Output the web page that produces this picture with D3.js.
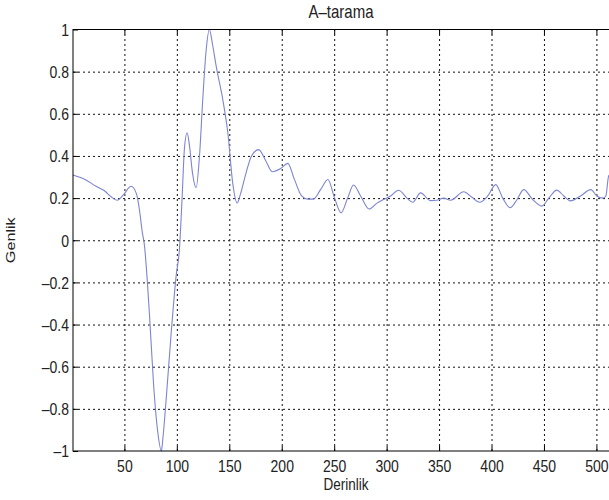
<!DOCTYPE html>
<html>
<head>
<meta charset="utf-8">
<script src="https://cdn.jsdelivr.net/npm/d3@7/dist/d3.min.js"></script>
<style>
  body { margin: 0; background: #fff; }
  text { font-family: 'Liberation Sans', Arial, sans-serif; }
</style>
</head>
<body>
<div id="chart"></div>
<script>
// A-scan trace
const depth = [1, 12, 23, 31, 37.6, 43, 49, 56.4, 61.5, 64.3, 67, 69, 74, 77.7, 81.8, 85.3, 86.5, 89.8,
  94.6, 99.3, 102.5, 105, 107.3, 109.8, 112, 114.9, 118.4, 121.6, 124.7, 128, 131, 134, 137.5, 143.8,
  148.6, 153.3, 157.5, 160.7, 166, 171.2, 178, 184.5, 191, 199, 205.8, 212, 219, 224.6, 230, 237, 244,
  250.4, 256.6, 262.8, 268.5, 275.2, 283.3, 290.5, 297, 303.8, 311.5, 319.4, 325, 332.4, 341.7, 347.7,
  354.4, 361, 373.5, 381, 388.7, 396.4, 404, 410.7, 417.8, 424, 430.7, 439.3, 447.9, 454.6, 462.2,
  468.9, 475.1, 484.8, 494.7, 500.4, 506, 509, 511.4, 512]
const amplitude = [0.31, 0.29, 0.256, 0.235, 0.205, 0.19, 0.215, 0.256, 0.22, 0.146, 0.04, -0.02, -0.36,
  -0.675, -0.91, -1.0, -0.95, -0.756, -0.44, -0.17, -0.04, 0.2, 0.44, 0.51, 0.45, 0.32, 0.249, 0.4,
  0.668, 0.905, 1.0, 0.93, 0.826, 0.668, 0.51, 0.27, 0.177, 0.22, 0.32, 0.4, 0.43, 0.38, 0.325, 0.34,
  0.365, 0.29, 0.21, 0.195, 0.195, 0.24, 0.288, 0.2, 0.13, 0.2, 0.262, 0.21, 0.148, 0.175, 0.193, 0.21,
  0.237, 0.2, 0.18, 0.225, 0.188, 0.19, 0.2, 0.19, 0.23, 0.205, 0.18, 0.21, 0.264, 0.2, 0.154, 0.19,
  0.24, 0.193, 0.162, 0.2, 0.238, 0.21, 0.187, 0.21, 0.24, 0.21, 0.2, 0.21, 0.3, 0.31]

const xTicks = [50, 100, 150, 200, 250, 300, 350, 400, 450, 500]
const yTicks = [-1, -0.8, -0.6, -0.4, -0.2, 0, 0.2, 0.4, 0.6, 0.8, 1]
const yTickLabels = ['\u20131', '\u20130.8', '\u20130.6', '\u20130.4', '\u20130.2', '0', '0.2', '0.4', '0.6', '0.8', '1']

const margin = { top: 29.5, left: 73, right: 0, bottom: 49 }
const width = 609 - margin.left - margin.right
const height = 500 - margin.top - margin.bottom
const stretch = 1.2

const svg = d3
  .select('#chart')
  .append('svg')
  .attr('width', 609)
  .attr('height', 500)
  .append('g')
  .attr('transform', 'translate(' + margin.left + ',' + margin.top + ')')

const xPositionScale = d3.scaleLinear().domain([1, 512]).range([0, width])
const yPositionScale = d3.scaleLinear().domain([-1, 1]).range([height, 0])

// dotted grid
const xGrid = d3.axisBottom(xPositionScale).tickValues(xTicks).tickSize(-height).tickFormat('')
svg.append('g').attr('class', 'grid').attr('transform', 'translate(0,' + height + ')').call(xGrid)
const yGrid = d3.axisLeft(yPositionScale).tickValues(yTicks.slice(1, -1)).tickSize(-(width + 1)).tickFormat('')
svg.append('g').attr('class', 'grid').call(yGrid)
svg.selectAll('.grid path').remove()
svg
  .selectAll('.grid line')
  .attr('stroke', '#111')
  .attr('stroke-width', 1)
  .attr('stroke-dasharray', '2,3')

const line = d3
  .line()
  .x((d, i) => xPositionScale(depth[i]))
  .y(d => yPositionScale(d))
  .curve(d3.curveMonotoneX)

svg
  .append('path')
  .datum(amplitude)
  .attr('d', line)
  .attr('fill', 'none')
  .attr('stroke', '#7d84d4')
  .attr('stroke-width', 1.1)

// frame
svg
  .append('rect')
  .attr('x', 0)
  .attr('y', 0)
  .attr('width', width + 1)
  .attr('height', height)
  .attr('fill', 'none')
  .attr('stroke', '#000')
  .attr('stroke-width', 1)

// inward ticks, MATLAB style
const xAxis = d3.axisBottom(xPositionScale).tickValues(xTicks).tickSize(-5)
svg.append('g').attr('class', 'axis x-axis').attr('transform', 'translate(0,' + height + ')').call(xAxis)
svg
  .selectAll('.x-axis text')
  .attr('y', 0)
  .attr('dy', '0.35em')
  .attr('transform', 'translate(0,15) scale(1,' + stretch + ')')

const xTop = d3.axisTop(xPositionScale).tickValues(xTicks).tickSize(-5).tickFormat('')
svg.append('g').attr('class', 'axis').call(xTop)

const yAxis = d3
  .axisLeft(yPositionScale)
  .tickValues(yTicks)
  .tickSize(-5)
  .tickFormat((d, i) => yTickLabels[i])
svg.append('g').attr('class', 'axis y-axis').call(yAxis)
svg
  .selectAll('.y-axis text')
  .attr('x', -4)
  .attr('y', 0)
  .attr('dy', '0.35em')
  .attr('transform', 'scale(1,' + stretch + ')')

svg.selectAll('.axis path').remove()
svg.selectAll('.axis line').attr('stroke', '#000')
svg
  .selectAll('.axis text')
  .attr('fill', '#222')
  .attr('font-size', 14)
  .attr('font-family', "'Liberation Sans', Arial, sans-serif")

svg
  .append('text')
  .text('A\u2013tarama')
  .attr('transform', 'translate(' + (width / 2) + ',' + (18.3 - margin.top) + ') scale(1,' + stretch + ')')
  .attr('text-anchor', 'middle')
  .attr('font-size', 15)
  .attr('fill', '#222')

svg
  .append('text')
  .text('Derinlik')
  .attr('transform', 'translate(' + (width / 2 + 5) + ',' + (490 - margin.top) + ') scale(1,' + stretch + ')')
  .attr('text-anchor', 'middle')
  .attr('font-size', 13.5)
  .attr('fill', '#222')

svg
  .append('text')
  .text('Genlik')
  .attr('transform', 'translate(' + (15 - margin.left) + ',' + (height / 2) + ') rotate(-90) scale(' + stretch + ',1)')
  .attr('text-anchor', 'middle')
  .attr('font-size', 13.5)
  .attr('fill', '#222')
</script>
</body>
</html>
